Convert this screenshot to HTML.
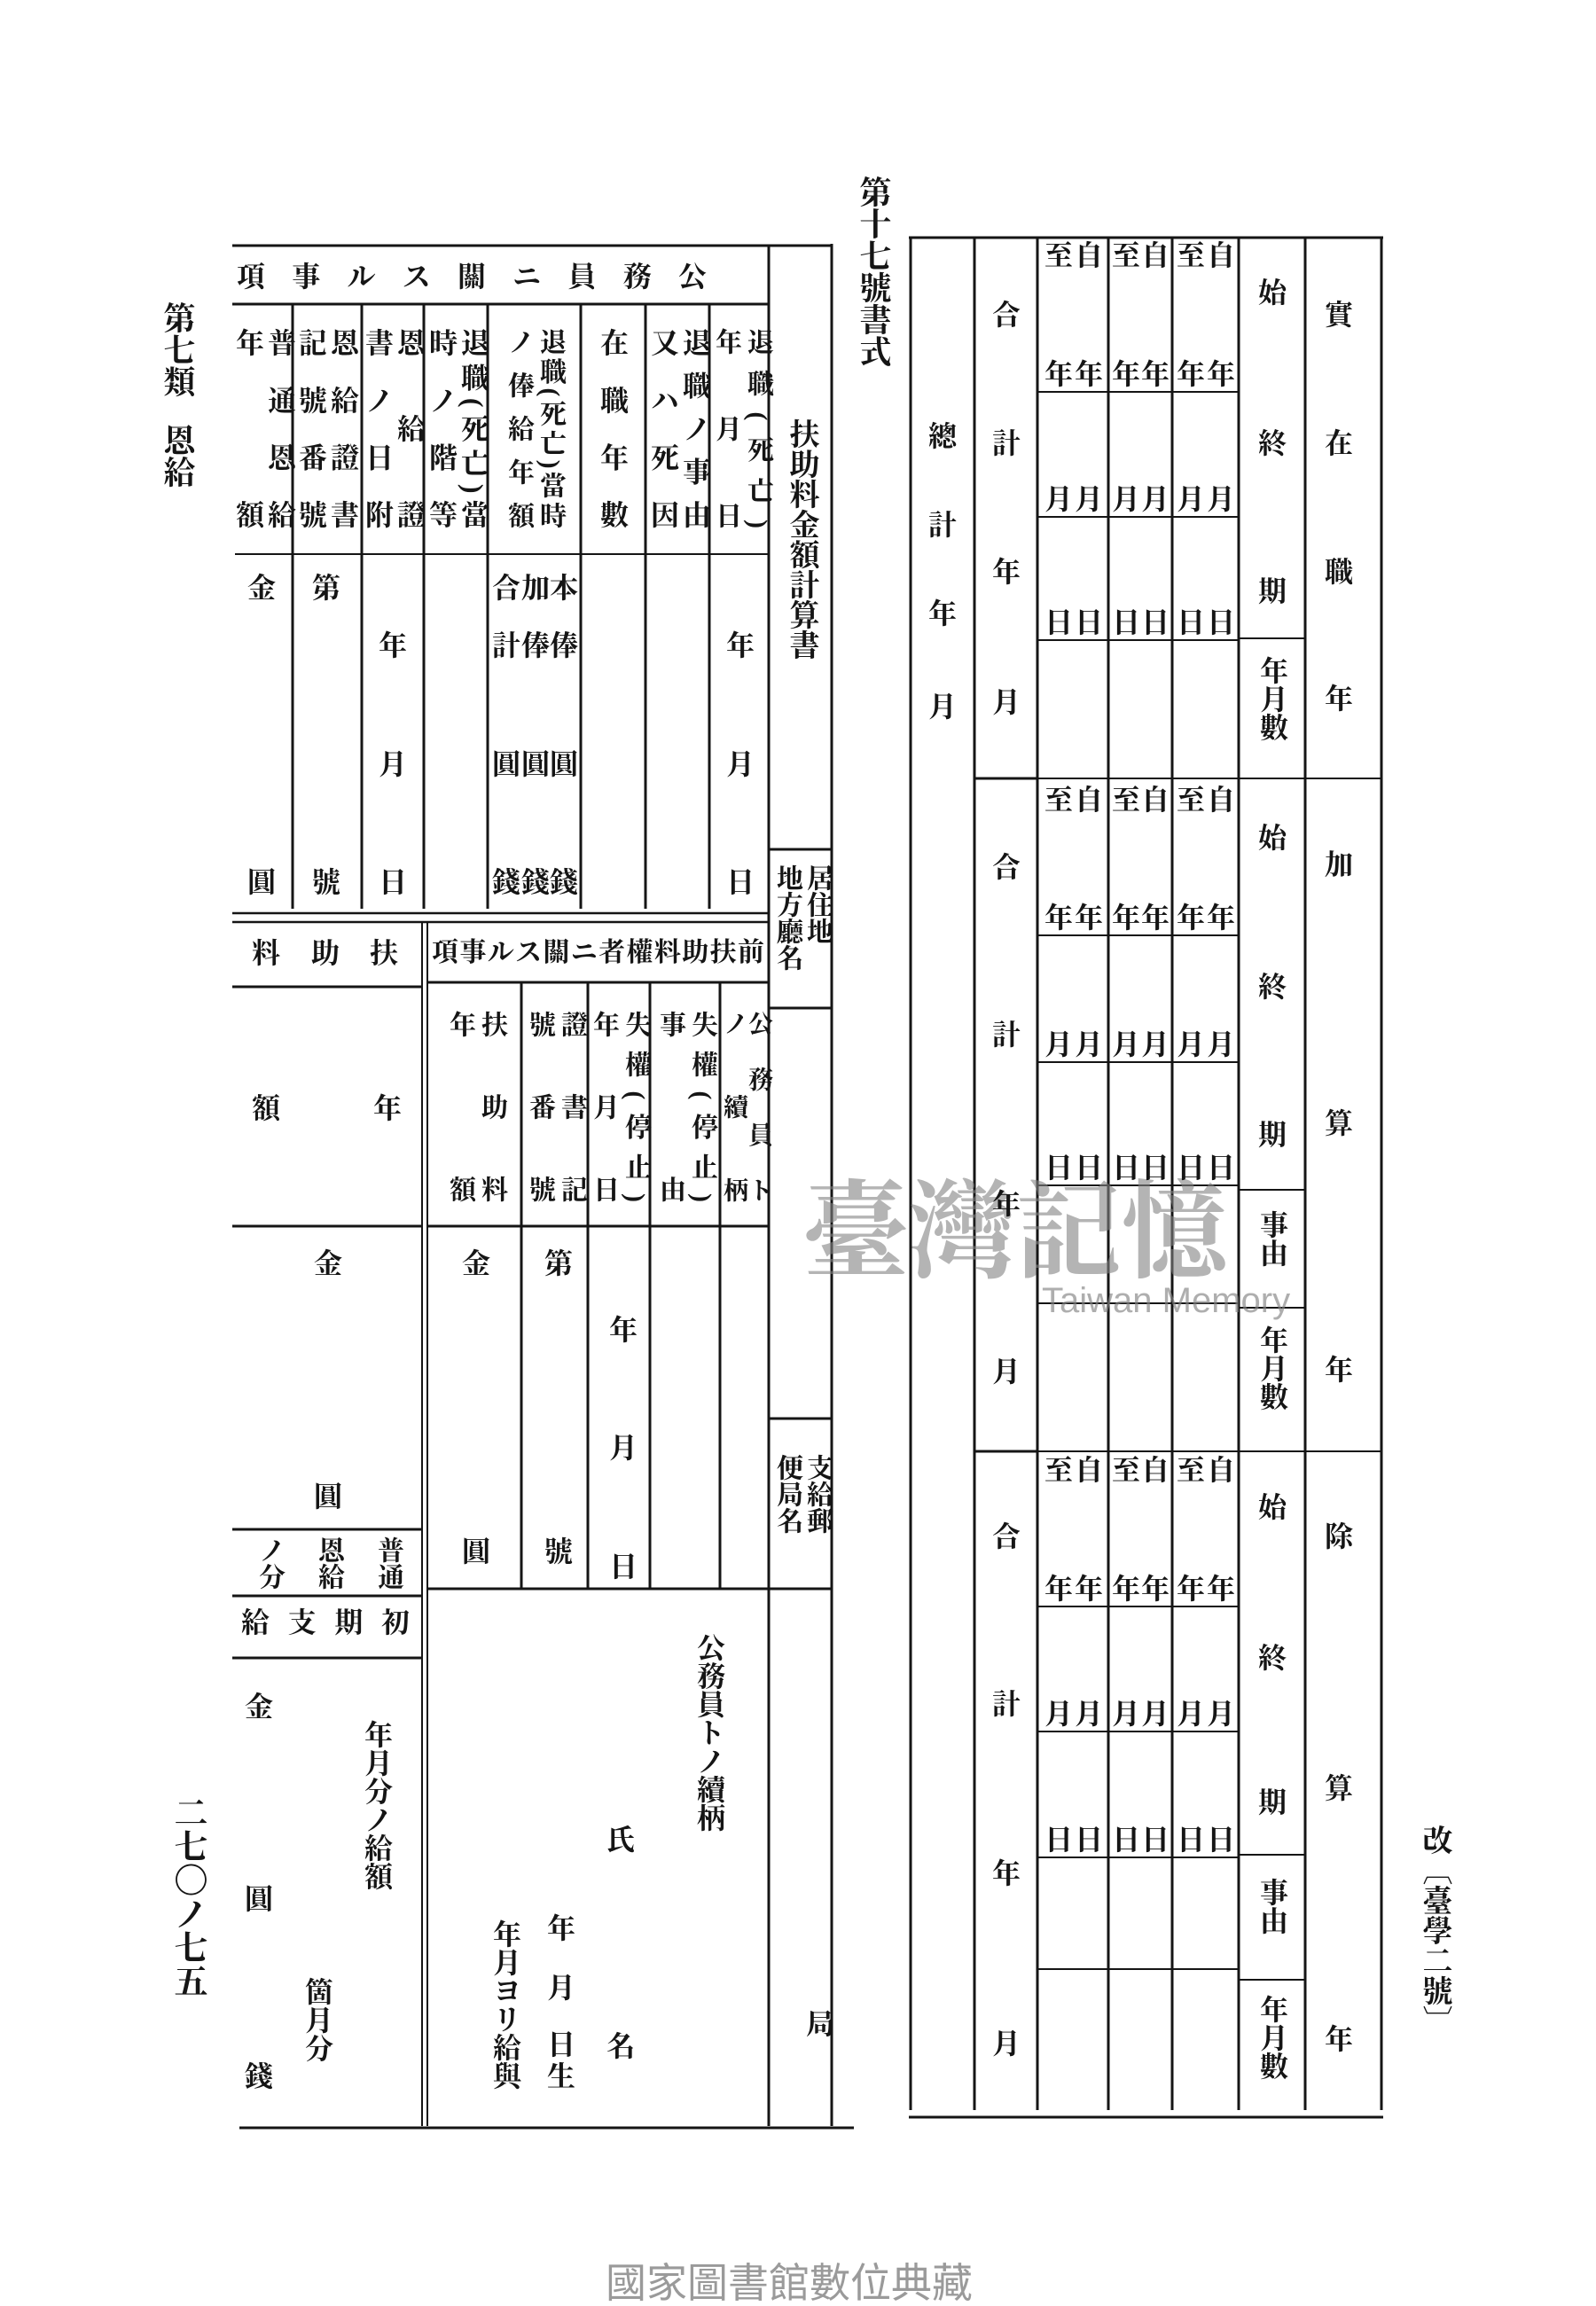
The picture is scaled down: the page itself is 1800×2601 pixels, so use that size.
<!DOCTYPE html>
<html><head><meta charset="utf-8"><style>
html,body{margin:0;padding:0;background:#fff;}
body{width:1800px;height:2600px;position:relative;overflow:hidden;}
.t{position:absolute;font-family:"Liberation Serif","Noto Serif CJK JP","Noto Serif CJK SC",serif;font-weight:bold;color:#151515;font-size:32px;line-height:32px;width:32px;height:32px;text-align:center;}
.v{position:absolute;font-family:"Liberation Serif","Noto Serif CJK JP","Noto Serif CJK SC",serif;font-weight:bold;color:#151515;font-size:32px;line-height:36px;writing-mode:vertical-rl;white-space:nowrap;}
.j{text-align:justify;text-align-last:justify;white-space:normal;}
.h{position:absolute;font-family:"Liberation Serif","Noto Serif CJK JP",serif;font-weight:bold;color:#151515;font-size:32px;line-height:32px;white-space:nowrap;display:flex;justify-content:space-between;}
svg{position:absolute;left:0;top:0;}
</style></head><body>
<svg width="1800" height="2600" viewBox="0 0 1800 2600">
<g stroke="#151515" stroke-width="3" fill="none">
<path d="M262 277H938"/>
<path d="M867 278V2398M938 275V2398"/>
<path d="M262 343H867"/>
<path d="M330 343V1025M408 343V1025M478 343V1025M550 343V1025M655 343V1025M728 343V1025M800 343V1025"/>
<path d="M265 625H867" stroke-width="2"/>
<path d="M262 1030H867M262 1040H867" stroke-width="2.5"/>
<path d="M476 1040V2398M482 1040V2398" stroke-width="2"/>
<path d="M262 1113H476M262 1383H476M262 1725H476M262 1800H476M262 1870H476"/>
<path d="M482 1108H867M588 1108V1792M663 1108V1792M733 1108V1792M812 1108V1792M482 1383H867M482 1792H867"/>
<path d="M867 958H938M867 1137H938M867 1600H938M867 1792H938"/>
<path d="M270 2400H963"/>
<path d="M1025 268H1560M1025 2388H1560"/>
<path d="M1027 268V2380M1099 268V2380M1170 268V2380M1250 268V2380M1322 268V2380M1397 268V2380M1472 268V2380M1558 268V2380"/>
<path d="M1099 878H1170M1099 1637H1170"/>
<path d="M1170 442H1397M1170 583H1397M1170 722H1397M1170 878H1397M1170 1055H1397M1170 1198H1397M1170 1337H1397M1170 1470H1397M1170 1637H1397M1170 1812H1397M1170 1953H1397M1170 2095H1397M1170 2221H1397" stroke-width="2"/>
<path d="M1397 720H1472M1397 878H1472M1397 1342H1472M1397 1475H1472M1397 1637H1472M1397 2092H1472M1397 2233H1472" stroke-width="2"/>
<path d="M1472 878H1558M1472 1637H1558" stroke-width="2"/>
</g>
</svg>

<div class="v" style="left:967px;top:198px;font-size:36px;line-height:36px;">第十七號書式</div>
<div class="v" style="left:182px;top:340px;font-size:36px;line-height:36px;">第七類</div>
<div class="v" style="left:182px;top:478px;font-size:36px;line-height:36px;">恩給</div>
<div class="v" style="left:192px;top:2025px;font-size:38px;line-height:38px;">二七〇ノ七五</div>
<div class="v" style="left:1598px;top:2058px;font-size:34px;line-height:38px;">改〔臺學二號〕</div>
<div class="h" style="left:683px;top:2550px;width:445px;font-size:46px;line-height:50px;color:#9a9a9a;font-weight:normal;font-family:'Liberation Sans','Noto Sans CJK TC',sans-serif;">國家圖書館數位典藏</div>
<div class="h" style="left:905px;top:1310px;width:520px;font-size:120px;line-height:140px;color:rgba(130,130,130,0.6);font-weight:bold;font-family:'Noto Serif CJK TC',serif;">臺灣記憶</div>
<div class="h" style="left:1175px;top:1445px;font-size:40px;line-height:44px;color:rgba(130,130,130,0.65);font-weight:normal;font-family:'Liberation Sans',sans-serif;">Taiwan Memory</div>

<div class="h" style="left:267px;top:296px;width:530px;flex-direction:row-reverse;">
<span>公</span><span>務</span><span>員</span><span>ニ</span><span>關</span><span>ス</span><span>ル</span><span>事</span><span>項</span></div>

<div class="v j" style="left:262px;top:370px;height:226px;width:72px;">普通恩給<br>年額</div>
<div class="v j" style="left:333px;top:370px;height:226px;width:72px;">恩給證書<br>記號番號</div>
<div class="v j" style="left:410px;top:370px;height:226px;width:70px;">恩給證<br>書ノ日附</div>
<div class="v j" style="left:480px;top:370px;height:226px;width:72px;">退職(死亡)當<br>時ノ階等</div>
<div class="v j" style="left:566px;top:370px;height:226px;width:72px;font-size:30px;line-height:36px;">退職(死亡)當時<br>ノ俸給年額</div>
<div class="v j" style="left:673px;top:370px;height:226px;width:36px;">在職年數</div>
<div class="v j" style="left:730px;top:370px;height:226px;width:72px;">退職ノ事由<br>又ハ死因</div>
<div class="v j" style="left:800px;top:370px;height:226px;width:72px;font-size:30px;">退職(死亡)<br>年月日</div>

<div class="t" style="left:279px;top:647px">金</div><div class="t" style="left:279px;top:979px">圓</div>
<div class="t" style="left:352px;top:647px">第</div><div class="t" style="left:352px;top:979px">號</div>
<div class="t" style="left:427px;top:712px">年</div><div class="t" style="left:427px;top:846px">月</div><div class="t" style="left:427px;top:979px">日</div>
<div class="t" style="left:620px;top:647px">本</div><div class="t" style="left:588px;top:647px">加</div><div class="t" style="left:555px;top:647px">合</div>
<div class="t" style="left:620px;top:712px">俸</div><div class="t" style="left:588px;top:712px">俸</div><div class="t" style="left:555px;top:712px">計</div>
<div class="t" style="left:620px;top:846px">圓</div><div class="t" style="left:588px;top:846px">圓</div><div class="t" style="left:555px;top:846px">圓</div>
<div class="t" style="left:620px;top:979px">錢</div><div class="t" style="left:588px;top:979px">錢</div><div class="t" style="left:555px;top:979px">錢</div>
<div class="t" style="left:819px;top:712px">年</div><div class="t" style="left:819px;top:846px">月</div><div class="t" style="left:819px;top:979px">日</div>

<div class="v" style="left:885px;top:472px;font-size:34px;line-height:36px;">扶助料金額計算書</div>
<div class="v" style="left:870px;top:975px;line-height:34px;font-size:30px;">居住地<br>地方廳名</div>
<div class="v" style="left:870px;top:1640px;line-height:34px;font-size:30px;">支給郵<br>便局名</div>
<div class="t" style="left:909px;top:2267px">局</div>

<div class="t" style="left:284px;top:1059px">料</div><div class="t" style="left:351px;top:1059px">助</div><div class="t" style="left:417px;top:1059px">扶</div>
<div class="t" style="left:284px;top:1234px">額</div><div class="t" style="left:421px;top:1234px">年</div>
<div class="t" style="left:354px;top:1409px">金</div><div class="t" style="left:354px;top:1672px">圓</div>
<div class="v" style="left:420px;top:1733px;font-size:30px;line-height:34px;">普通</div>
<div class="v" style="left:353px;top:1733px;font-size:30px;line-height:34px;">恩給</div>
<div class="v" style="left:286px;top:1733px;font-size:30px;line-height:34px;">ノ分</div>
<div class="h" style="left:272px;top:1814px;width:190px;flex-direction:row-reverse;"><span>初</span><span>期</span><span>支</span><span>給</span></div>
<div class="t" style="left:276px;top:1909px">金</div><div class="t" style="left:276px;top:2126px">圓</div><div class="t" style="left:276px;top:2326px">錢</div>
<div class="v" style="left:408px;top:1940px;line-height:34px;">年月分ノ給額</div>
<div class="v" style="left:341px;top:2230px;line-height:34px;">箇月分</div>

<div class="h" style="left:487px;top:1059px;width:375px;flex-direction:row-reverse;font-size:30px;">
<span>前</span><span>扶</span><span>助</span><span>料</span><span>權</span><span>者</span><span>ニ</span><span>關</span><span>ス</span><span>ル</span><span>事</span><span>項</span></div>
<div class="v j" style="left:813px;top:1140px;height:216px;width:56px;font-size:28px;line-height:28px;">公務員ト<br>ノ續柄</div>
<div class="v j" style="left:737px;top:1140px;height:216px;width:72px;font-size:30px;">失權(停止)<br>事由</div>
<div class="v j" style="left:666px;top:1140px;height:216px;width:68px;font-size:30px;">失權(停止)<br>年月日</div>
<div class="v j" style="left:592px;top:1140px;height:216px;width:70px;font-size:30px;">證書記<br>號番號</div>
<div class="v j" style="left:500px;top:1140px;height:216px;width:72px;font-size:30px;">扶助料<br>年額</div>
<div class="t" style="left:521px;top:1409px">金</div><div class="t" style="left:521px;top:1734px">圓</div>
<div class="t" style="left:614px;top:1409px">第</div><div class="t" style="left:614px;top:1734px">號</div>
<div class="t" style="left:687px;top:1484px">年</div><div class="t" style="left:687px;top:1617px">月</div><div class="t" style="left:687px;top:1751px">日</div>
<div class="v" style="left:782px;top:1842px;line-height:36px;">公務員トノ續柄</div>
<div class="t" style="left:684px;top:2059px">氏</div><div class="t" style="left:684px;top:2292px">名</div>
<div class="t" style="left:617px;top:2159px">年</div><div class="t" style="left:617px;top:2226px">月</div><div class="t" style="left:617px;top:2290px">日</div><div class="t" style="left:617px;top:2326px">生</div>
<div class="v" style="left:552px;top:2165px;line-height:36px;">年月ヨリ給與</div>

<div class="t" style="left:1047px;top:476px">總</div><div class="t" style="left:1047px;top:576px">計</div><div class="t" style="left:1047px;top:676px">年</div><div class="t" style="left:1047px;top:781px">月</div>

<div class="t" style="left:1119px;top:339px">合</div><div class="t" style="left:1119px;top:484px">計</div><div class="t" style="left:1119px;top:629px">年</div><div class="t" style="left:1119px;top:776px">月</div>
<div class="t" style="left:1119px;top:962px">合</div><div class="t" style="left:1119px;top:1151px">計</div><div class="t" style="left:1119px;top:1342px">年</div><div class="t" style="left:1119px;top:1531px">月</div>
<div class="t" style="left:1119px;top:1717px">合</div><div class="t" style="left:1119px;top:1906px">計</div><div class="t" style="left:1119px;top:2097px">年</div><div class="t" style="left:1119px;top:2289px">月</div>

<div class="t" style="left:1212px;top:272px">自</div><div class="t" style="left:1178px;top:272px">至</div>
<div class="t" style="left:1212px;top:406px">年</div><div class="t" style="left:1178px;top:406px">年</div>
<div class="t" style="left:1212px;top:547px">月</div><div class="t" style="left:1178px;top:547px">月</div>
<div class="t" style="left:1212px;top:686px">日</div><div class="t" style="left:1178px;top:686px">日</div>
<div class="t" style="left:1212px;top:886px">自</div><div class="t" style="left:1178px;top:886px">至</div>
<div class="t" style="left:1212px;top:1019px">年</div><div class="t" style="left:1178px;top:1019px">年</div>
<div class="t" style="left:1212px;top:1162px">月</div><div class="t" style="left:1178px;top:1162px">月</div>
<div class="t" style="left:1212px;top:1301px">日</div><div class="t" style="left:1178px;top:1301px">日</div>
<div class="t" style="left:1212px;top:1642px">自</div><div class="t" style="left:1178px;top:1642px">至</div>
<div class="t" style="left:1212px;top:1776px">年</div><div class="t" style="left:1178px;top:1776px">年</div>
<div class="t" style="left:1212px;top:1917px">月</div><div class="t" style="left:1178px;top:1917px">月</div>
<div class="t" style="left:1212px;top:2059px">日</div><div class="t" style="left:1178px;top:2059px">日</div>
<div class="t" style="left:1287px;top:272px">自</div><div class="t" style="left:1254px;top:272px">至</div>
<div class="t" style="left:1287px;top:406px">年</div><div class="t" style="left:1254px;top:406px">年</div>
<div class="t" style="left:1287px;top:547px">月</div><div class="t" style="left:1254px;top:547px">月</div>
<div class="t" style="left:1287px;top:686px">日</div><div class="t" style="left:1254px;top:686px">日</div>
<div class="t" style="left:1287px;top:886px">自</div><div class="t" style="left:1254px;top:886px">至</div>
<div class="t" style="left:1287px;top:1019px">年</div><div class="t" style="left:1254px;top:1019px">年</div>
<div class="t" style="left:1287px;top:1162px">月</div><div class="t" style="left:1254px;top:1162px">月</div>
<div class="t" style="left:1287px;top:1301px">日</div><div class="t" style="left:1254px;top:1301px">日</div>
<div class="t" style="left:1287px;top:1642px">自</div><div class="t" style="left:1254px;top:1642px">至</div>
<div class="t" style="left:1287px;top:1776px">年</div><div class="t" style="left:1254px;top:1776px">年</div>
<div class="t" style="left:1287px;top:1917px">月</div><div class="t" style="left:1254px;top:1917px">月</div>
<div class="t" style="left:1287px;top:2059px">日</div><div class="t" style="left:1254px;top:2059px">日</div>
<div class="t" style="left:1361px;top:272px">自</div><div class="t" style="left:1327px;top:272px">至</div>
<div class="t" style="left:1361px;top:406px">年</div><div class="t" style="left:1327px;top:406px">年</div>
<div class="t" style="left:1361px;top:547px">月</div><div class="t" style="left:1327px;top:547px">月</div>
<div class="t" style="left:1361px;top:686px">日</div><div class="t" style="left:1327px;top:686px">日</div>
<div class="t" style="left:1361px;top:886px">自</div><div class="t" style="left:1327px;top:886px">至</div>
<div class="t" style="left:1361px;top:1019px">年</div><div class="t" style="left:1327px;top:1019px">年</div>
<div class="t" style="left:1361px;top:1162px">月</div><div class="t" style="left:1327px;top:1162px">月</div>
<div class="t" style="left:1361px;top:1301px">日</div><div class="t" style="left:1327px;top:1301px">日</div>
<div class="t" style="left:1361px;top:1642px">自</div><div class="t" style="left:1327px;top:1642px">至</div>
<div class="t" style="left:1361px;top:1776px">年</div><div class="t" style="left:1327px;top:1776px">年</div>
<div class="t" style="left:1361px;top:1917px">月</div><div class="t" style="left:1327px;top:1917px">月</div>
<div class="t" style="left:1361px;top:2059px">日</div><div class="t" style="left:1327px;top:2059px">日</div>

<div class="t" style="left:1419px;top:314px">始</div><div class="t" style="left:1419px;top:484px">終</div><div class="t" style="left:1419px;top:651px">期</div>
<div class="v" style="left:1419px;top:740px;line-height:32px;">年月數</div>
<div class="t" style="left:1419px;top:929px">始</div><div class="t" style="left:1419px;top:1097px">終</div><div class="t" style="left:1419px;top:1264px">期</div>
<div class="v" style="left:1419px;top:1365px;line-height:32px;height:72px;">事由</div>
<div class="v" style="left:1419px;top:1495px;line-height:32px;">年月數</div>
<div class="t" style="left:1419px;top:1684px">始</div><div class="t" style="left:1419px;top:1854px">終</div><div class="t" style="left:1419px;top:2017px">期</div>
<div class="v" style="left:1419px;top:2118px;line-height:32px;">事由</div>
<div class="v" style="left:1419px;top:2250px;line-height:32px;">年月數</div>

<div class="t" style="left:1494px;top:339px">實</div><div class="t" style="left:1494px;top:484px">在</div><div class="t" style="left:1494px;top:629px">職</div><div class="t" style="left:1494px;top:772px">年</div>
<div class="t" style="left:1494px;top:959px">加</div><div class="t" style="left:1494px;top:1251px">算</div><div class="t" style="left:1494px;top:1529px">年</div>
<div class="t" style="left:1494px;top:1717px">除</div><div class="t" style="left:1494px;top:2001px">算</div><div class="t" style="left:1494px;top:2284px">年</div>
</body></html>
